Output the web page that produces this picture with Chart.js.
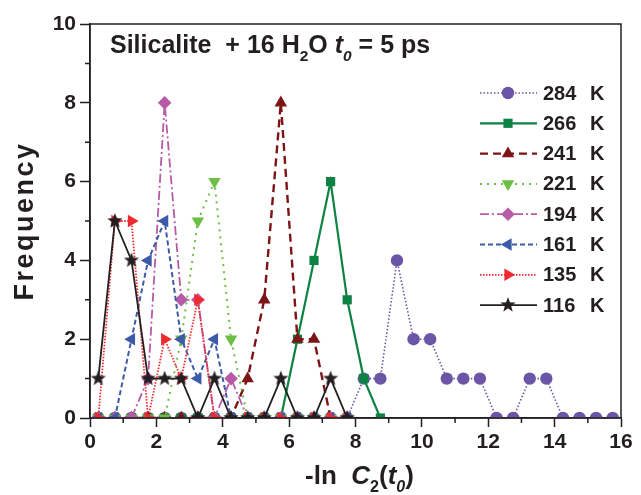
<!DOCTYPE html>
<html>
<head>
<meta charset="utf-8">
<title>Silicalite + 16 H2O, t0 = 5 ps</title>
<script src="https://cdn.jsdelivr.net/npm/chart.js@4.4.1/dist/chart.umd.min.js"></script>
<style>
  html, body { margin: 0; padding: 0; background: #fff; }
  canvas { display: block; }
</style>
</head>
<body>
<canvas id="chart" width="641" height="495"></canvas>
<script>
// bin centres on the -ln C2(t0) axis
const binCentres = [0.25, 0.75, 1.25, 1.75, 2.25, 2.75, 3.25, 3.75, 4.25, 4.75, 5.25, 5.75,
  6.25, 6.75, 7.25, 7.75, 8.25, 8.75, 9.25, 9.75, 10.25, 10.75, 11.25, 11.75,
  12.25, 12.75, 13.25, 13.75, 14.25, 14.75, 15.25, 15.75];

const temperatures = ['284', '266', '241', '221', '194', '161', '135', '116'];

// frequencies per bin, starting at the first bin centre
const freq284 = [0, 0, 0, 0, 0, 0, 0, 0, 0, 0, 0, 0, 0, 0, 0, 0, 1, 1, 4, 2, 2, 1, 1, 1, 0, 0, 1, 1, 0, 0, 0, 0];
const freq266 = [0, 0, 0, 0, 0, 0, 0, 0, 0, 0, 0, 0, 2, 4, 6, 3, 1, 0];
const freq241 = [0, 0, 0, 0, 0, 0, 0, 0, 0, 1, 3, 8, 2, 2, 0, 0];
const freq221 = [0, 0, 0, 0, 0, 2, 5, 6, 2, 0, 0, 0, 0, 0, 0, 0];
const freq194 = [0, 0, 0, 1, 8, 3, 3, 0, 1, 0, 0, 0, 0, 0, 0, 0];
const freq161 = [0, 0, 2, 4, 5, 2, 1, 2, 0, 0, 0, 0, 0, 0, 0, 0];
const freq135 = [0, 5, 5, 0, 2, 1, 3, 0, 0, 0, 0, 0, 0, 0, 0, 0];
const freq116 = [1, 5, 4, 1, 1, 1, 0, 1, 0, 0, 0, 1, 0, 0, 1, 0];

const yTicks = [0, 2, 4, 6, 8, 10];
const xTicks = [0, 2, 4, 6, 8, 10, 12, 14, 16];

const FONT = '"Liberation Sans", Arial, Helvetica, sans-serif';
const INK = '#231f20';

// filled five point star, Chart.js only has the line version
function makeStar(color, r) {
  const c = document.createElement('canvas');
  const s = Math.ceil(r * 2 + 2);
  c.width = s; c.height = s;
  const g = c.getContext('2d');
  g.fillStyle = color;
  g.beginPath();
  for (let i = 0; i < 10; i++) {
    const rad = (i % 2 === 0) ? r : r * 0.42;
    const a = -Math.PI / 2 + i * Math.PI / 5;
    const px = s / 2 + rad * Math.cos(a);
    const py = s / 2 + rad * Math.sin(a);
    if (i === 0) g.moveTo(px, py); else g.lineTo(px, py);
  }
  g.closePath();
  g.fill();
  return c;
}

const styles = [
  { color: '#6b55a7', dash: [1.5, 2],      width: 1.6, point: 'circle',   rot: 0,   r: 6.2 },
  { color: '#0d8343', dash: [],            width: 2.2, point: 'rect',     rot: 0,   r: 6.5 },
  { color: '#7d1416', dash: [8, 5],        width: 2.4, point: 'triangle', rot: 0,   r: 7.2 },
  { color: '#6cbf45', dash: [2, 5],        width: 2,   point: 'triangle', rot: 180, r: 7.2 },
  { color: '#b75aa8', dash: [9, 3, 2, 3],  width: 1.8, point: 'rectRot',  rot: 0,   r: 6.8 },
  { color: '#3c5aa8', dash: [5, 3],        width: 2,   point: 'triangle', rot: 270, r: 7.2 },
  { color: '#ee2a2e', dash: [1.5, 1.5],    width: 1.8, point: 'triangle', rot: 90,  r: 7.2 },
  { color: INK,       dash: [],            width: 1.8, point: makeStar(INK, 8), rot: 0, r: 7 }
];

const seriesValues = [freq284, freq266, freq241, freq221, freq194, freq161, freq135, freq116];

const datasets = seriesValues.map((vals, i) => {
  const st = styles[i];
  return {
    label: temperatures[i] + ' K',
    data: vals.map((v, j) => ({ x: binCentres[j], y: v })),
    borderColor: st.color,
    backgroundColor: st.color,
    borderWidth: st.width,
    borderDash: st.dash,
    pointStyle: st.point,
    pointRotation: st.rot,
    pointRadius: st.r,
    pointHoverRadius: st.r,
    pointBorderWidth: 0,
    pointBackgroundColor: st.color,
    tension: 0,
    // later temperatures (116 K) drawn on top
    order: seriesValues.length - 1 - i
  };
});

// write text with italic / subscript pieces
function richWidth(ctx, parts, size) {
  let w = 0;
  parts.forEach(p => {
    const fs = p.sub ? size * 0.62 : size;
    ctx.font = (p.it ? 'italic ' : '') + 'bold ' + fs + 'px ' + FONT;
    w += ctx.measureText(p.t).width;
  });
  return w;
}
function drawRich(ctx, parts, x, y, size) {
  let cx = x;
  ctx.textAlign = 'left';
  ctx.textBaseline = 'alphabetic';
  parts.forEach(p => {
    const fs = p.sub ? size * 0.62 : size;
    ctx.font = (p.it ? 'italic ' : '') + 'bold ' + fs + 'px ' + FONT;
    ctx.fillText(p.t, cx, y + (p.sub ? size * 0.3 : 0));
    cx += ctx.measureText(p.t).width;
  });
}

const titleParts = [
  { t: 'Silicalite  + 16 H' }, { t: '2', sub: true }, { t: 'O ' },
  { t: 't', it: true }, { t: '0', it: true, sub: true }, { t: ' = 5 ps' }
];
const xTitleParts = [
  { t: '-ln  ' }, { t: 'C', it: true }, { t: '2', sub: true }, { t: '(' },
  { t: 't', it: true }, { t: '0', it: true, sub: true }, { t: ')' }
];

const decorations = {
  id: 'decorations',
  afterDraw(chart) {
    const ctx = chart.ctx;
    const area = chart.chartArea;
    const xs = chart.scales.x, ys = chart.scales.y;
    ctx.save();

    // frame round the plot
    ctx.strokeStyle = INK;
    ctx.lineWidth = 1.5;
    ctx.setLineDash([]);
    ctx.strokeRect(area.left, area.top, area.right - area.left, area.bottom - area.top);

    // minor ticks
    ctx.beginPath();
    for (let v = 1; v < 10; v += 2) {
      const py = ys.getPixelForValue(v);
      ctx.moveTo(area.left - 5, py); ctx.lineTo(area.left, py);
    }
    for (let v = 1; v < 16; v += 2) {
      const px = xs.getPixelForValue(v);
      ctx.moveTo(px, area.bottom); ctx.lineTo(px, area.bottom + 5);
    }
    ctx.stroke();

    // titles
    ctx.fillStyle = INK;
    drawRich(ctx, titleParts, 110, 53, 25);
    const xw = richWidth(ctx, xTitleParts, 26);
    drawRich(ctx, xTitleParts, (area.left + area.right) / 2 - xw / 2 + 4, 484, 26);

    // y title, a little spaced out as in the original
    ctx.save();
    ctx.translate(26, (area.top + area.bottom) / 2);
    ctx.rotate(-Math.PI / 2);
    ctx.font = 'bold 27px ' + FONT;
    if ('letterSpacing' in ctx) ctx.letterSpacing = '2.5px';
    ctx.textAlign = 'center';
    ctx.textBaseline = 'middle';
    ctx.fillText('Frequency', 0, 0);
    ctx.restore();

    // legend: line sample, marker, label
    chart.data.datasets.forEach((ds, i) => {
      const st = styles[i];
      const y = 93 + 30.3 * i;
      ctx.strokeStyle = st.color;
      ctx.lineWidth = st.width;
      ctx.setLineDash(st.dash);
      ctx.beginPath();
      ctx.moveTo(480, y); ctx.lineTo(537, y);
      ctx.stroke();
      ctx.setLineDash([]);
      ctx.fillStyle = st.color;
      Chart.helpers.drawPoint(ctx, {
        pointStyle: st.point, rotation: st.rot, radius: st.r, borderWidth: 0
      }, 508, y);
      ctx.fillStyle = INK;
      ctx.font = 'bold 20px ' + FONT;
      ctx.textAlign = 'left';
      ctx.textBaseline = 'middle';
      ctx.fillText(temperatures[i], 543, y + 1);
      ctx.fillText('K', 590, y + 1);
    });
    ctx.restore();
  }
};

const tickFont = { family: FONT, size: 21, weight: 'bold' };

new Chart(document.getElementById('chart'), {
  type: 'line',
  data: { datasets: datasets },
  options: {
    responsive: false,
    animation: false,
    events: [],
    layout: { padding: { top: 24, right: 20, left: 0, bottom: 0 } },
    plugins: {
      legend: { display: false },
      tooltip: { enabled: false }
    },
    scales: {
      x: {
        type: 'linear',
        min: 0, max: 16,
        afterBuildTicks: (s) => { s.ticks = xTicks.map(v => ({ value: v })); },
        ticks: { color: INK, font: tickFont, padding: 3, maxRotation: 0, autoSkip: false },
        grid: { drawOnChartArea: false, tickLength: 9, tickColor: INK, tickWidth: 1.5 },
        border: { color: INK, width: 1.5 },
        afterFit: (s) => { s.height = 77; }
      },
      y: {
        type: 'linear',
        min: 0, max: 10,
        afterBuildTicks: (s) => { s.ticks = yTicks.map(v => ({ value: v })); },
        ticks: { color: INK, font: tickFont, padding: 4 },
        grid: { drawOnChartArea: false, tickLength: 10, tickColor: INK, tickWidth: 1.5 },
        border: { color: INK, width: 1.5 },
        afterFit: (s) => { s.width = 90; }
      }
    }
  },
  plugins: [decorations]
});
</script>
</body>
</html>
